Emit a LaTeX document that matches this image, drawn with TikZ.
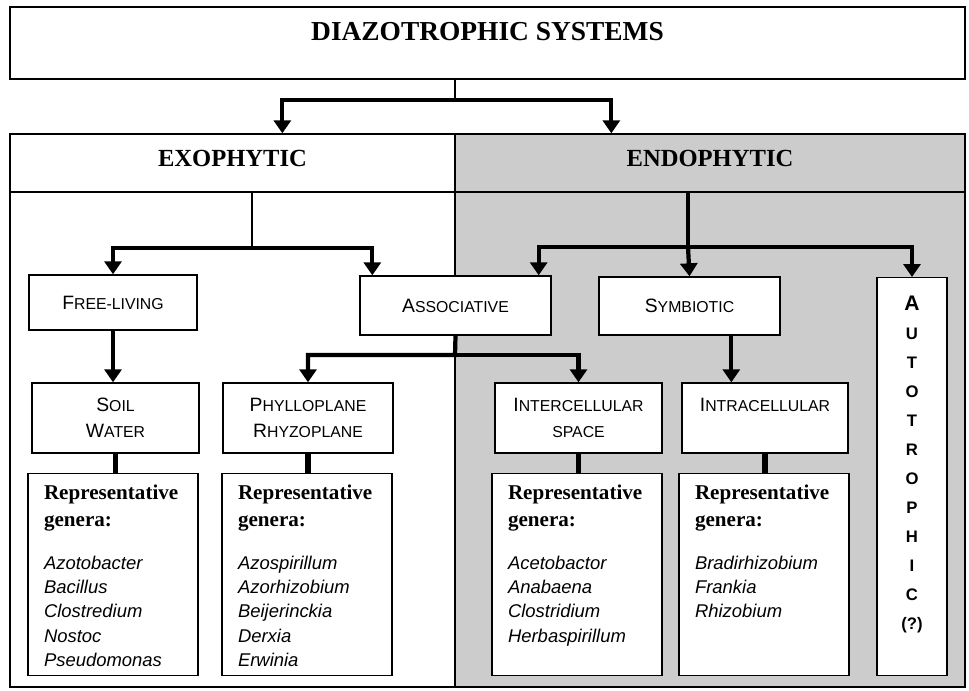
\documentclass[tikz,border=0pt]{standalone}
\usepackage{fontspec}
\setmainfont{Liberation Serif}
\setsansfont{Liberation Sans}
\usetikzlibrary{arrows.meta,positioning,calc}
\definecolor{Shade}{gray}{0.8}

% small caps by hand: big first letter, smaller rest
\newcommand\smcap[2]{{\fontsize{11}{14.7}\selectfont #1}{\fontsize{9}{14.7}\selectfont #2}}
% content of a "Representative genera" box
\newcommand\genera[1]{\parbox[t][4.04cm][t]{2.76cm}{\raggedright\vspace*{0.22cm}%
  {\rmfamily\bfseries\fontsize{12}{15.3}\selectfont Representative\\genera:\par}%
  \vspace{10.5pt}%
  {\sffamily\itshape\fontsize{10.5}{13.9}\selectfont #1\par}}}

\begin{document}
\begin{tikzpicture}[x=0.02cm, y=-0.02cm,
    panel/.style={line width=0.8pt},
    hdr/.style={draw, line width=0.8pt, inner sep=0pt, anchor=base, font=\rmfamily\bfseries\fontsize{14}{16}\selectfont},
    lbl/.style={draw, fill=white, line width=0.8pt, inner sep=0pt, align=center, font=\sffamily\fontsize{11}{14.7}\selectfont},
    genbox/.style={draw, fill=white, line width=0.8pt, inner xsep=0.32cm, inner ysep=0pt, anchor=north, minimum width=3.4cm},
    conn/.style={line width=1.4pt},
    arr/.style={-{Triangle[length=2.6mm,width=3.4mm]}, line width=2.4pt},
    stub/.style={line width=3pt}
]
\useasboundingbox (0,0) rectangle (969,690);

% the two panels
\fill[Shade] (455,134) rectangle (965,687);
\draw[panel] (10,134) rectangle (965,687);
\draw[panel] (455,134) -- (455,687);

% title and panel headers
\node[hdr, minimum width=19.1cm, text height=0.66cm, text depth=0.78cm, font=\rmfamily\bfseries\fontsize{15.6}{18}\selectfont] (title) at (487.5,40) {DIAZOTROPHIC SYSTEMS};
\node[hdr, minimum width=8.9cm, text height=0.64cm, text depth=0.52cm] (exo) at (232.5,166) {EXOPHYTIC};
\node[hdr, minimum width=10.2cm, text height=0.64cm, text depth=0.52cm] (endo) at (710,166) {ENDOPHYTIC};

% first row of boxes
\node[lbl, minimum width=3.36cm, minimum height=1.1cm] (free) at (113,302.5) {\smcap{F}{REE-LIVING}};
\node[lbl, minimum width=3.82cm, minimum height=1.18cm] (assoc) at (455.5,305.5) {\smcap{A}{SSOCIATIVE}};
\node[lbl, minimum width=3.62cm, minimum height=1.16cm] (symb) at (689.5,306) {\smcap{S}{YMBIOTIC}};
\node[lbl, anchor=north, minimum width=1.4cm, minimum height=7.96cm] (auto) at (912,277) {\parbox[t][7.96cm][t]{1.4cm}{\centering\vspace*{0.36cm}%
  \bfseries\fontsize{9.5}{16.5}\selectfont{\fontsize{12}{16.5}\selectfont A}\\U\\T\\O\\T\\R\\O\\P\\H\\I\\C\\(?)\par}};

% second row of boxes
\node[lbl, minimum width=3.34cm, minimum height=1.4cm] (soil) at (115.5,418) {\smcap{S}{OIL}\\\smcap{W}{ATER}};
\node[lbl, minimum width=3.4cm, minimum height=1.4cm] (phyllo) at (308,418) {\smcap{P}{HYLLOPLANE}\\\smcap{R}{HYZOPLANE}};
\node[lbl, minimum width=3.34cm, minimum height=1.4cm] (inter) at (578.5,418) {\smcap{I}{NTERCELLULAR}\\{\fontsize{9}{14.7}\selectfont SPACE}};
\node[lbl, minimum width=3.32cm, minimum height=1.4cm] (intra) at (765,418) {\smcap{I}{NTRACELLULAR}\\\mbox{}};

% genera boxes
\node[genbox] (gSoil) at (113,473) {\genera{Azotobacter\\Bacillus\\Clostredium\\Nostoc\\Pseudomonas}};
\node[genbox] (gPhyllo) at (307,473) {\genera{Azospirillum\\Azorhizobium\\Beijerinckia\\Derxia\\Erwinia}};
\node[genbox] (gInter) at (577,473) {\genera{Acetobactor\\Anabaena\\Clostridium\\Herbaspirillum}};
\node[genbox] (gIntra) at (764,473) {\genera{Bradirhizobium\\Frankia\\Rhizobium}};

% junction points
\coordinate (topJ) at (455,100);
\coordinate (exoJ) at (252,248);
\coordinate (endoJ) at (688,247);
\coordinate (assocJ) at (455,355);
\coordinate (intraTop) at ($(intra.north west)+(50,0)$);

% title to panels
\draw[conn] (title.south -| topJ) -- (topJ);
\draw[arr] (topJ) -| ($(exo.north west)+(273,0)$);
\draw[arr] (topJ) -| ($(endo.north west)+(157,0)$);

% exophytic branch
\draw[conn] (exo.south -| exoJ) -- (exoJ);
\draw[arr] (exoJ) -| (free.north);
\draw[arr] (exoJ) -| ($(assoc.north west)+(13,0)$);
\draw[arr] (free.south) -- (free.south |- soil.north);

% endophytic branch
\draw[arr] (endo.south -| endoJ) -- (endoJ) -| ($(assoc.north east)+(-13,0)$);
\draw[arr] (endoJ) -- (symb.north);
\draw[arr] (endoJ) -| (auto.north);
\draw[arr] (symb.south -| intraTop) -- (intraTop);

% associative split
\draw[arr] (assoc.south) -- (assocJ) -| (phyllo.north);
\draw[arr] (assocJ) -| (inter.north);

% links to genera
\draw[stub] (soil.south) -- (soil.south |- gSoil.north);
\draw[stub] (phyllo.south) -- (phyllo.south |- gPhyllo.north);
\draw[stub] (inter.south) -- (inter.south |- gInter.north);
\draw[stub] (intra.south) -- (intra.south |- gIntra.north);

\end{tikzpicture}
\end{document}
